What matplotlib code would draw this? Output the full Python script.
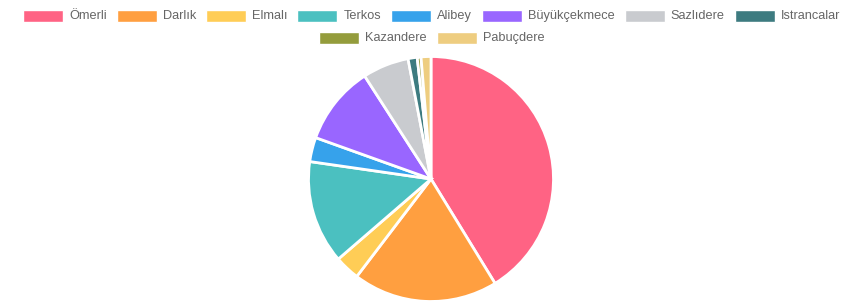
import matplotlib

matplotlib.use("Agg")
import matplotlib.pyplot as plt
from matplotlib.patches import Rectangle

labels = ["Ömerli", "Darlık", "Elmalı", "Terkos", "Alibey", "Büyükçekmece",
          "Sazlıdere", "Istrancalar", "Kazandere", "Pabuçdere"]
values = [41.2, 19.1, 3.3, 13.6, 3.2, 10.4, 6.1, 1.2, 0.5, 1.3]
colors = ["#ff6384", "#ff9f40", "#ffcd56", "#4bc0c0", "#36a2eb", "#9966ff",
          "#c9cbcf", "#3d7b80", "#949c3c", "#eecd80"]
legend_rows = [labels[:8], labels[8:]]

W, H = 863, 304
fig = plt.figure(figsize=(W / 100, H / 100), dpi=100)
plt.rcParams["font.family"] = ["Liberation Sans", "DejaVu Sans"]

# pie placed in pixel coordinates
cx, cy, r = 431, 179, 122.5
ax = fig.add_axes([(cx - r) / W, (H - cy - r) / H, 2 * r / W, 2 * r / H])
ax.pie(values, colors=colors, startangle=90, counterclock=False, radius=1,
       wedgeprops=dict(edgecolor="white", linewidth=2))
ax.set_xlim(-1, 1)
ax.set_ylim(-1, 1)
ax.set_aspect("equal")
ax.axis("off")

# chart.js style legend
renderer = fig.canvas.get_renderer()
fs = 12.7 * 72 / 100
box_w, box_h, pad = 40, 11, 10
row_y = [16, 38]
for row, y in zip(legend_rows, row_y):
    widths = []
    for lab in row:
        t = fig.text(0, 0, lab, fontsize=fs)
        widths.append(t.get_window_extent(renderer).width)
        t.remove()
    total = sum(box_w + 6 + w for w in widths) + pad * (len(row) - 1)
    x = (W - total) / 2
    for lab, w in zip(row, widths):
        col = colors[labels.index(lab)]
        fig.patches.append(Rectangle((x / W, (H - y - box_h / 2) / H), box_w / W, box_h / H,
                                     transform=fig.transFigure, facecolor=col,
                                     edgecolor="white", linewidth=1))
        fig.text((x + box_w + 6) / W, (H - y) / H, lab, fontsize=fs, color="#666666",
                 va="center", ha="left")
        x += box_w + 6 + w + pad

fig.savefig("out.png", dpi=100)
